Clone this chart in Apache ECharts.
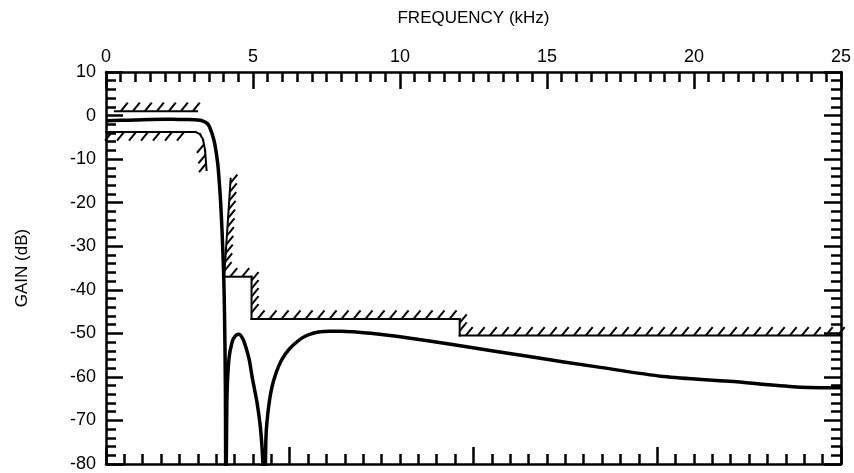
<!DOCTYPE html>
<html>
<head>
  <meta charset="UTF-8">
  <title>Filter gain response</title>
  <script src="https://cdn.jsdelivr.net/npm/echarts@6/dist/echarts.min.js"></script>
  <style>
    html, body { margin: 0; padding: 0; background: #fff; }
    #chart { width: 854px; height: 473px; }
  </style>
</head>
<body>
  <div id="chart"></div>
  <script>
    // frequency (kHz) and gain (dB) of the filter response
    const freq = [0, 0.5, 1.0, 1.5, 2.0, 2.5, 2.8, 3.0, 3.2, 3.3, 3.4, 3.5, 3.6, 3.7, 3.8, 3.85, 3.9, 3.95, 4.0, 4.03, 4.06, 4.08,
      4.11, 4.18, 4.29, 4.4, 4.52, 4.65, 4.75, 4.87, 4.97, 5.07, 5.14, 5.25, 5.33, 5.38,
      5.44, 5.48, 5.56, 5.65, 5.75, 5.87, 6.0, 6.21, 6.4, 6.66, 6.9, 7.23, 7.6, 8.0, 8.5, 9.0,
      10, 12, 14.45, 16.7, 18.96, 21.2, 23.5, 25];
    const gain = [-1.2, -1.1, -1.0, -0.9, -0.85, -0.9, -0.9, -0.95, -1.1, -1.3, -1.6, -2.3, -4, -6.5, -11, -15, -20, -27, -36, -45, -62, -95,
      -66, -56, -52, -50.6, -50.2, -51.2, -53, -56, -60, -63.5, -66, -71.5, -79, -95,
      -74, -70, -65.5, -62.2, -59.8, -57.6, -55.8, -53.8, -52.5, -51.1, -50.3, -49.7, -49.5, -49.5, -49.7, -50,
      -50.8, -52.8, -55.4, -57.7, -59.9, -61.0, -62.3, -62.5];

    // specification mask lines (kHz, dB); hatch side: 1 = up/right, -1 = down/left
    const passUpperF = [0.3, 3.1];
    const passUpperG = [1, 1];
    const passLowerF = [0, 3.05, 3.2, 3.3, 3.37, 3.42];
    const passLowerG = [-3.8, -3.8, -4.3, -5.5, -8, -12.5];
    const stopF = [4.24, 4.02, 4.95, 4.95, 12.03, 12.03, 25];
    const stopG = [-14.5, -37, -37, -46.7, -46.7, -50.5, -50.5];

    const xTicks = [0, 25];
    const yTicks = [-80, 10];

    const chart = echarts.init(document.getElementById('chart'));
    const black = '#000';
    const font = '"Liberation Sans", Arial, sans-serif';

    function maskSeries(fs, gs, side) {
      return {
        type: 'custom',
        xAxisIndex: 0,
        yAxisIndex: 0,
        silent: true,
        data: fs.map((f, i) => [f, gs[i]]),
        renderItem: function (params, api) {
          const i = params.dataIndex;
          if (i === 0) return null;
          const a = api.coord([fs[i - 1], gs[i - 1]]);
          const b = api.coord([fs[i], gs[i]]);
          const dx = b[0] - a[0], dy = b[1] - a[1];
          const len = Math.sqrt(dx * dx + dy * dy);
          const children = [{
            type: 'line',
            shape: { x1: a[0], y1: a[1], x2: b[0], y2: b[1] },
            style: { stroke: black, lineWidth: 2, lineCap: 'square' }
          }];
          const spacing = 12 * Math.abs(dx) / len + 8 * Math.abs(dy) / len;
          for (let s = spacing / 2; s < len; s += spacing) {
            const px = a[0] + dx * s / len, py = a[1] + dy * s / len;
            children.push({
              type: 'line',
              shape: { x1: px, y1: py, x2: px + side * 7, y2: py - side * 8.5 },
              style: { stroke: black, lineWidth: 2 }
            });
          }
          return { type: 'group', children: children };
        }
      };
    }

    function xAxisCfg(pos, interval, labels) {
      return {
        type: 'value', position: pos, min: xTicks[0], max: xTicks[1], interval: interval,
        axisLine: { show: true, onZero: false, lineStyle: { color: black, width: 2.5 } },
        axisTick: { show: true, inside: true, length: 17, lineStyle: { color: black, width: 2.5 } },
        minorTick: { show: true, splitNumber: 10, length: 10, lineStyle: { color: black, width: 2.5 } },
        axisLabel: { show: labels, color: black, fontSize: 18, fontFamily: font, margin: 6 },
        splitLine: { show: false }
      };
    }
    function yAxisCfg(pos, labels) {
      return {
        type: 'value', position: pos, min: yTicks[0], max: yTicks[1], interval: 10,
        axisLine: { show: true, onZero: false, lineStyle: { color: black, width: 2.5 } },
        axisTick: { show: true, inside: true, length: 17, lineStyle: { color: black, width: 2.5 } },
        minorTick: { show: true, splitNumber: 5, length: 10, lineStyle: { color: black, width: 2.5 } },
        axisLabel: { show: labels, color: black, fontSize: 18, fontFamily: font, margin: 10 },
        splitLine: { show: false }
      };
    }

    const xTop = xAxisCfg('top', 5, true);
    xTop.name = 'FREQUENCY (kHz)';
    xTop.nameLocation = 'middle';
    xTop.nameGap = 54;
    xTop.nameTextStyle = { color: black, fontSize: 17, fontFamily: font, verticalAlign: 'middle' };
    const yLeft = yAxisCfg('left', true);
    yLeft.name = 'GAIN (dB)';
    yLeft.nameLocation = 'middle';
    yLeft.nameGap = 84;
    yLeft.nameRotate = 90;
    yLeft.nameTextStyle = { color: black, fontSize: 17, fontFamily: font, verticalAlign: 'middle' };

    chart.setOption({
      animation: false,
      backgroundColor: '#fff',
      grid: { left: 106, right: 10, top: 72, bottom: 9 },
      xAxis: [xTop, xAxisCfg('bottom', 6.25, false)],
      yAxis: [yLeft, yAxisCfg('right', false)],
      series: [
        maskSeries(passUpperF, passUpperG, 1),
        maskSeries(passLowerF, passLowerG, -1),
        maskSeries(stopF, stopG, 1),
        {
          type: 'line',
          xAxisIndex: 0,
          yAxisIndex: 0,
          data: freq.map((f, i) => [f, gain[i]]),
          showSymbol: false,
          smooth: 0.3,
          clip: true,
          lineStyle: { color: black, width: 3.5, join: 'round' },
          silent: true
        }
      ]
    });
  </script>
</body>
</html>
